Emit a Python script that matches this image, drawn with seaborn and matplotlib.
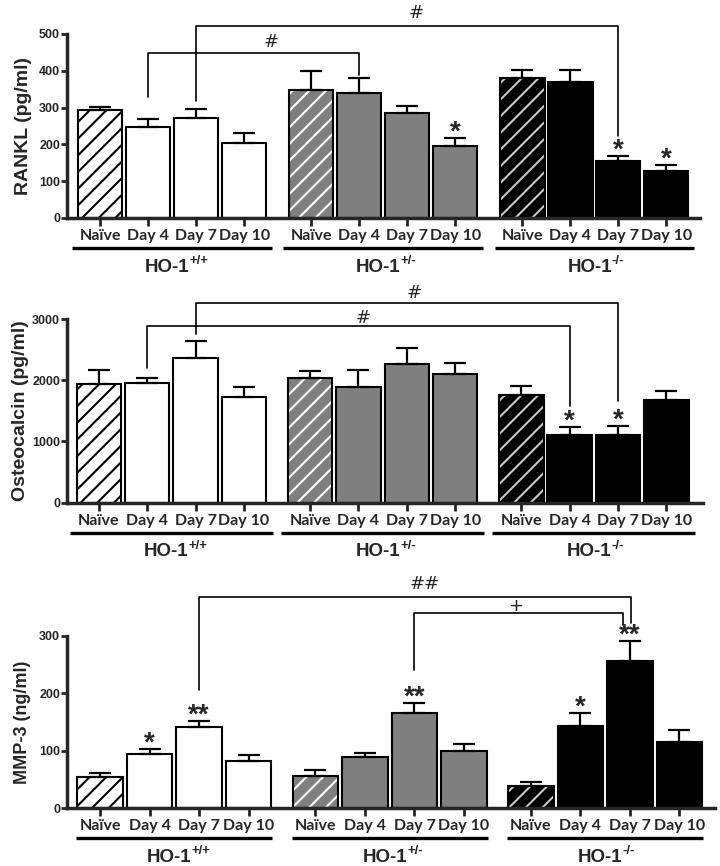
import matplotlib
matplotlib.use("Agg")
import matplotlib.pyplot as plt
from matplotlib.patches import Rectangle
from matplotlib.transforms import offset_copy
import seaborn as sns
import numpy as np
import pandas as pd

conditions = ["Naïve", "Day 4", "Day 7", "Day 10"]
genotypes = ["+/+", "+/-", "-/-"]

rankl_mean = [293, 246, 272, 203, 348, 339, 286, 196, 380, 370, 155, 127]
rankl_sem = [8, 22, 23, 29, 51, 41, 17, 21, 22, 32, 13, 17]
rankl_stars = ["", "", "", "", "", "", "", "*", "", "", "*", "*"]

osteo_mean = [1935, 1961, 2359, 1732, 2043, 1896, 2271, 2103, 1755, 1106, 1106, 1678]
osteo_sem = [233, 82, 278, 159, 104, 272, 252, 175, 152, 126, 147, 152]
osteo_stars = ["", "", "", "", "", "", "", "", "", "*", "*", ""]

mmp3_mean = [55, 95, 141, 82, 56, 89, 166, 100, 39, 143, 256, 116]
mmp3_sem = [7, 8, 11, 10, 11, 7, 17, 11, 6, 23, 34, 20]
mmp3_stars = ["", "*", "**", "", "", "", "**", "", "", "*", "**", ""]

# brackets: (left bar, right bar, top, left leg end, right leg end, label, label x, label y, right leg shift)
rankl_brackets = [(1, 5, 448, 329, 389, "#", 3.56, 479, 0.0),
                  (2, 10, 522, 318, 223, "#", 6.58, 558, 0.0)]
osteo_brackets = [(1, 9, 2892, 2196, 1580, "#", 5.47, 3023, 0.0),
                  (2, 10, 3258, 2752, 1662, "#", 6.52, 3427, 0.0)]
mmp3_brackets = [(2, 10, 368, 206, 322, "##", 6.55, 390, 0.02),
                 (6, 10, 339, 241, 319, "+", 8.4, 351, -0.14)]

sns.set_style("ticks")
plt.rcParams["font.family"] = ["Liberation Sans", "DejaVu Sans"]
plt.rcParams["font.weight"] = "bold"
plt.rcParams["hatch.linewidth"] = 1.5

fill_colors = ["white", "#7f7f7f", "black"]
hatch_colors = ["black", "white", "#c8c8c8"]

fig = plt.figure(figsize=(7.2, 8.66), dpi=100)


def draw_panel(rect, means, sems, stars, brackets, ylabel, yticks, gap, xlim,
               line_half, label_size, label_x):
    ax = fig.add_axes(rect)
    pos = np.array([g * gap + i for g in range(3) for i in range(4)])
    df = pd.DataFrame({"pos": pos, "value": means,
                       "geno": np.repeat(genotypes, 4)})
    sns.barplot(data=df, x="pos", y="value", hue="geno", hue_order=genotypes,
                palette=fill_colors, native_scale=True, dodge=False, width=0.92,
                errorbar=None, edgecolor="black", linewidth=1.5, legend=False,
                ax=ax)
    bars = sorted(ax.patches, key=lambda p: p.get_x())
    for g in range(3):
        p = bars[g * 4]
        p.set_hatch("//")
        p.set_edgecolor(hatch_colors[g])
        p.set_linewidth(0)
        ax.add_patch(Rectangle((p.get_x(), 0), p.get_width(), p.get_height(),
                               fill=False, ec="black", lw=1.5, zorder=p.get_zorder() + 0.1))

    ax.errorbar(pos, means, yerr=[np.zeros(len(means)), sems], fmt="none",
                ecolor="black", elinewidth=1.6, capsize=8, capthick=1.6, zorder=1)

    tops = np.array(means) + np.array(sems)
    for x, t, s in zip(pos, tops, stars):
        if s:
            ax.annotate(s, (x, t), xytext=(0, -1), textcoords="offset points",
                        ha="center", va="baseline", fontsize=20, fontweight="bold")

    for i, j, yt, yl, yr, lab, lx, ly, sh in brackets:
        x1, x2 = pos[i], pos[j] + sh
        ax.plot([x1, x1, x2, x2], [yl, yt, yt, yr], color="black", lw=1.2,
                clip_on=False)
        ax.text(lx, ly, lab, ha="center", va="center", fontsize=13,
                fontweight="normal", family="DejaVu Sans")

    ax.set_xlim(*xlim)
    ax.set_ylim(yticks[0], yticks[-1])
    ax.set_yticks(yticks)
    ax.set_xticks(pos, conditions * 3, family="Lato", fontsize=11.5, fontweight="bold")
    ax.tick_params(axis="y", length=4, width=2, labelsize=9, pad=1)
    ax.tick_params(axis="x", length=6, width=2, pad=2)
    ax.set_ylabel(ylabel, fontsize=label_size, fontweight="bold")
    ax.yaxis.set_label_coords(label_x, 0.5)
    ax.set_xlabel("")
    sns.despine(ax=ax)
    for s in ["left", "bottom"]:
        ax.spines[s].set_linewidth(2.5)

    under = offset_copy(ax.get_xaxis_transform(), fig=fig, y=-30, units="dots")
    glab = offset_copy(ax.get_xaxis_transform(), fig=fig, y=-49, units="dots")
    for g in range(3):
        a, b = pos[g * 4], pos[g * 4 + 3]
        ax.plot([a - line_half, b + line_half], [0, 0], color="black", lw=2.4,
                transform=under, clip_on=False, solid_capstyle="butt")
        t = ax.text((a + b) / 2 - 0.1, 0, "HO-1", transform=glab,
                    ha="center", va="center", fontsize=13.5)
        ax.annotate(genotypes[g], xy=(1, 0.85), xycoords=t, xytext=(0, 0),
                    textcoords="offset points", ha="left", va="center",
                    fontsize=9.5)
    return ax


draw_panel([67 / 720, 1 - 218 / 866, 633 / 720, 184 / 866],
           rankl_mean, rankl_sem, rankl_stars, rankl_brackets,
           "RANKL (pg/ml)", [0, 100, 200, 300, 400, 500], 4.4, (-0.69, 12.5),
           0.58, 14, -0.055)
draw_panel([67 / 720, 1 - 502.7 / 866, 636 / 720, 183.7 / 866],
           osteo_mean, osteo_sem, osteo_stars, osteo_brackets,
           "Osteocalcin (pg/ml)", [0, 1000, 2000, 3000], 4.37, (-0.66, 12.5),
           0.6, 14, -0.06)
draw_panel([67 / 720, 1 - 808.3 / 866, 648 / 720, 172.6 / 866],
           mmp3_mean, mmp3_sem, mmp3_stars, mmp3_brackets,
           "MMP-3 (ng/ml)", [0, 100, 200, 300], 4.35, (-0.667, 12.42),
           0.48, 13, -0.055)

fig.savefig("out.png", dpi=100)
